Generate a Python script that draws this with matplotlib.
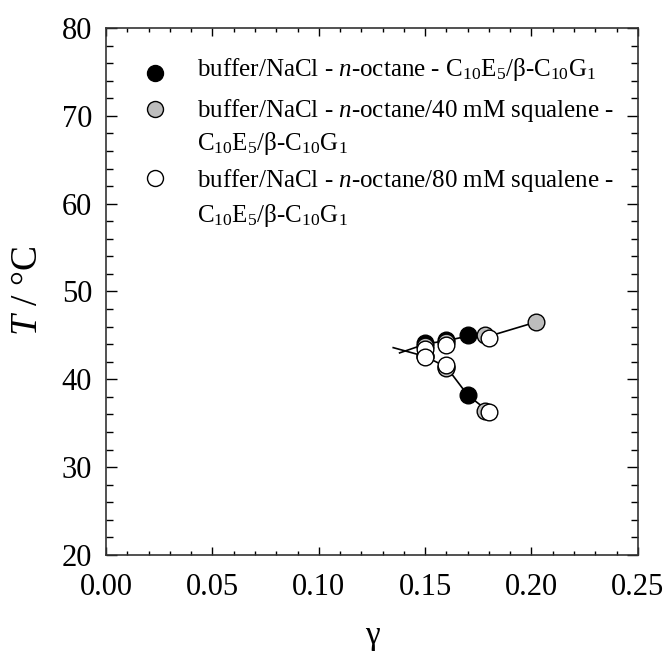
import matplotlib.pyplot as plt
from matplotlib.ticker import MultipleLocator

plt.rcParams['font.family'] = 'Liberation Serif'
plt.rcParams['mathtext.fontset'] = 'custom'
plt.rcParams['mathtext.rm'] = 'Liberation Serif'
plt.rcParams['mathtext.it'] = 'Liberation Serif:italic'

# data
# C10E5 / b-C10G1 in buffer/NaCl - n-octane
g_black = [0.150, 0.160, 0.170, 0.150, 0.160, 0.170]
T_black = [44.1, 44.5, 45.0, 42.7, 41.4, 38.2]
# + 40 mM squalene
g_gray = [0.150, 0.160, 0.178, 0.202, 0.150, 0.160, 0.178]
T_gray = [43.8, 44.2, 45.0, 46.5, 42.6, 41.3, 36.4]
# + 80 mM squalene
g_open = [0.150, 0.160, 0.180, 0.150, 0.160, 0.180]
T_open = [43.4, 43.9, 44.7, 42.5, 41.6, 36.3]

# guide lines (upper and lower branch, meeting in the tail)
g_upper = [0.138, 0.150, 0.160, 0.170, 0.180, 0.202]
T_upper = [43.0, 44.0, 44.4, 44.9, 44.9, 46.5]
g_lower = [0.135, 0.150, 0.160, 0.170, 0.180]
T_lower = [43.6, 42.6, 41.4, 38.2, 36.3]

labels = [
    (r'buffer/NaCl - $\it{n}$-octane - C$_{10}$E$_5$/β-C$_{10}$G$_1$', None),
    (r'buffer/NaCl - $\it{n}$-octane/40 mM squalene -', r'C$_{10}$E$_5$/β-C$_{10}$G$_1$'),
    (r'buffer/NaCl - $\it{n}$-octane/80 mM squalene -', r'C$_{10}$E$_5$/β-C$_{10}$G$_1$'),
]
colors = ['black', '#bdbdbd', 'white']

fig = plt.figure(figsize=(6.63, 6.59), dpi=100)
ax = fig.add_axes([0.160, 0.158, 0.802, 0.7995])

ax.plot(g_upper, T_upper, color='black', lw=1.2, zorder=1)
ax.plot(g_lower, T_lower, color='black', lw=1.2, zorder=1)

ms = 12
ax.plot(g_black, T_black, 'o', ms=ms, mfc='black', mec='black', mew=1, zorder=2)
ax.plot(g_gray, T_gray, 'o', ms=ms, mfc='#bdbdbd', mec='black', mew=1, zorder=3)
ax.plot(g_open, T_open, 'o', ms=ms, mfc='white', mec='black', mew=1, zorder=4)

# legend drawn by hand so the marker sits at the first line
mark_y = [0.915, 0.846, 0.715]
text_y = [(0.909, None), (0.831, 0.768), (0.698, 0.632)]
for (l1, l2), c, my, (y1, y2) in zip(labels, colors, mark_y, text_y):
    ax.plot([0.092], [my], 'o', ms=11.5, mfc=c, mec='black', mew=1,
            transform=ax.transAxes, clip_on=False)
    ax.text(0.171, y1, l1, fontsize=18, va='baseline', transform=ax.transAxes)
    if l2:
        ax.text(0.171, y2, l2, fontsize=18, va='baseline', transform=ax.transAxes)

ax.set_xlim(0, 0.25)
ax.set_ylim(20, 80)
ax.xaxis.set_major_locator(MultipleLocator(0.05))
ax.xaxis.set_minor_locator(MultipleLocator(0.01))
ax.yaxis.set_major_locator(MultipleLocator(10))
ax.yaxis.set_minor_locator(MultipleLocator(2))
ax.xaxis.set_major_formatter(plt.FormatStrFormatter('%.2f'))

ax.tick_params(axis='both', which='both', direction='in', top=True, right=True,
               labelsize=22, width=1)
ax.tick_params(axis='x', which='major', length=6, pad=13)
ax.tick_params(axis='x', which='minor', length=3)
ax.tick_params(axis='y', which='major', length=8, pad=10)
ax.tick_params(axis='y', which='minor', length=5)
for s in ax.spines.values():
    s.set_linewidth(1.2)
    s.set_color('#333333')

ax.set_ylabel(r'$\it{T}$ / °C', fontsize=27)
ax.yaxis.set_label_coords(-0.115, 0.5)
fig.text(0.561, 0.036, 'γ', fontsize=24, ha='center', va='center')

fig.savefig('out.png', dpi=100)
